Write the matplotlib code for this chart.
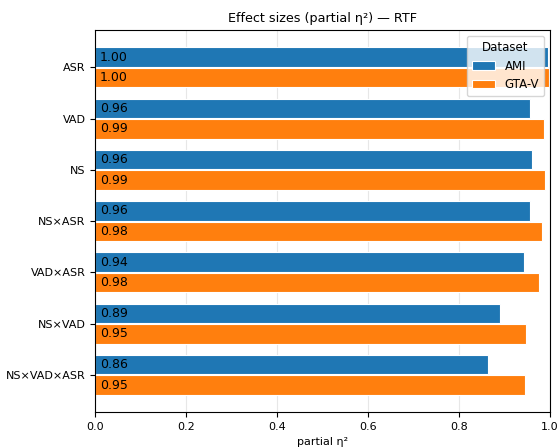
import matplotlib.pyplot as plt
import numpy as np

effects = ['ASR', 'VAD', 'NS', 'NS×ASR', 'VAD×ASR', 'NS×VAD', 'NS×VAD×ASR']
ami = [0.996, 0.957, 0.961, 0.957, 0.943, 0.890, 0.864]
gta = [0.999, 0.986, 0.990, 0.983, 0.976, 0.948, 0.946]
series = [('AMI', ami, '#1f77b4'), ('GTA-V', gta, '#ff7f0e')]

fig, ax = plt.subplots(figsize=(5.6, 4.48), dpi=100)

y = np.arange(len(effects))
h = 0.38
for i, (name, vals, color) in enumerate(series):
    pos = y - 0.2 + i * 0.4
    ax.barh(pos, vals, height=h, color=color, label=name,
            edgecolor='white', linewidth=0.8)
    for p, v in zip(pos, vals):
        ax.text(0.01, p, f'{v:.2f}', va='center', ha='left', fontsize=9)

ax.set_yticks(y)
ax.set_yticklabels(effects)
ax.invert_yaxis()
ax.set_xlim(0, 1)
ax.tick_params(labelsize=8)
ax.set_xlabel('partial η²', fontsize=8)
ax.set_title('Effect sizes (partial η²) — RTF', fontsize=9.2)
ax.grid(axis='x', alpha=0.3)
ax.set_axisbelow(True)
ax.legend(title='Dataset', loc='upper right', fontsize=8.5, title_fontsize=8.5)

fig.subplots_adjust(left=0.17, right=0.982, top=0.933, bottom=0.08)
fig.savefig('out.png')
